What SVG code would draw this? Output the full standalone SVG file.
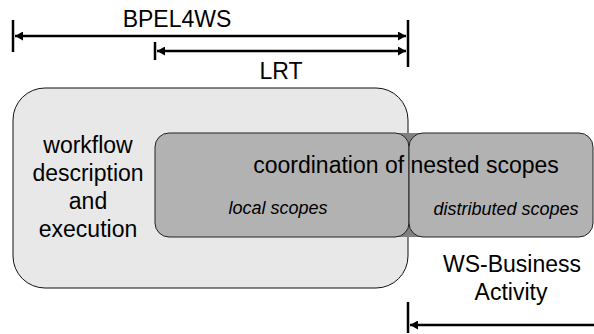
<svg xmlns="http://www.w3.org/2000/svg" width="594" height="334" viewBox="0 0 594 334">
<style>
  .t { font-family: "Liberation Sans", Arial, sans-serif; font-size: 23px; fill: #000; text-anchor: middle; }
  .i { font-family: "Liberation Sans", Arial, sans-serif; font-size: 18px; font-style: italic; fill: #000; text-anchor: middle; }
  .ln { stroke: #000; stroke-width: 2.5; fill: none; }
  .tk { stroke: #000; stroke-width: 2.5; }
</style>
<defs>
  <marker id="ah" viewBox="0 0 8 9" refX="8" refY="4.5" markerWidth="8" markerHeight="9" markerUnits="userSpaceOnUse" orient="auto-start-reverse">
    <path d="M0,0 L8,4.5 L0,9 z" fill="#000"/>
  </marker>
</defs>
<rect width="594" height="334" fill="#fff"/>
<g id="workflow">
  <rect x="13" y="88" width="395" height="200" rx="32" ry="32" fill="#e8e8e8" stroke="#111" stroke-width="1"/>
  <text class="t" x="88" y="153">workflow</text>
  <text class="t" x="88" y="181">description</text>
  <text class="t" x="88" y="209">and</text>
  <text class="t" x="88" y="237">execution</text>
</g>
<g id="gap">
  <rect x="396" y="133" width="26" height="104" fill="#808080"/>
</g>
<g id="local-scopes">
  <rect x="155" y="133" width="254" height="104" rx="14" ry="14" fill="#b2b2b2" stroke="#222" stroke-width="1"/>
  <text class="i" x="278" y="214">local scopes</text>
</g>
<g id="distributed-scopes">
  <rect x="409" y="133" width="184" height="104" rx="14" ry="14" fill="#b2b2b2" stroke="#222" stroke-width="1"/>
  <text class="i" x="506" y="215">distributed scopes</text>
</g>
<g id="coordination">
  <text class="t" x="406" y="173">coordination of nested scopes</text>
</g>
<g id="labels">
  <text class="t" x="177" y="27">BPEL4WS</text>
  <text class="t" x="281" y="79">LRT</text>
  <text class="t" x="512" y="272">WS-Business</text>
  <text class="t" x="511" y="300">Activity</text>
</g>
<g id="connectors">
  <line class="tk" x1="13" y1="20" x2="13" y2="52"/>
  <line class="tk" x1="408" y1="20" x2="408" y2="67"/>
  <line class="ln" x1="15" y1="36" x2="406" y2="36" marker-start="url(#ah)" marker-end="url(#ah)"/>
  <line class="tk" x1="155" y1="42" x2="155" y2="60"/>
  <line class="ln" x1="157" y1="51" x2="406" y2="51" marker-start="url(#ah)" marker-end="url(#ah)"/>
  <line class="tk" x1="408" y1="302" x2="408" y2="333"/>
  <line class="ln" x1="410" y1="325" x2="594" y2="325" marker-start="url(#ah)"/>
</g>
</svg>
